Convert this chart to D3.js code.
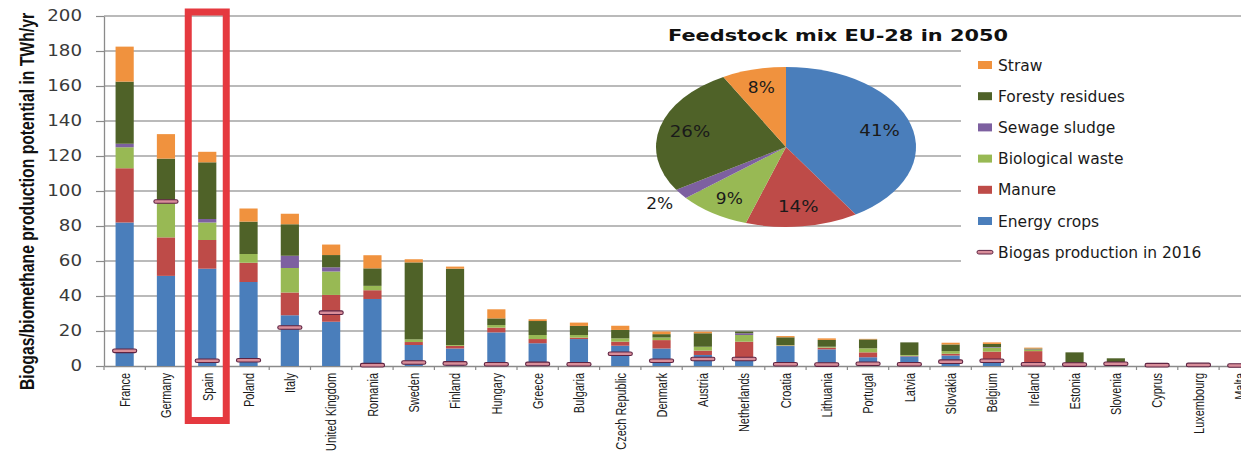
<!DOCTYPE html>
<html><head><meta charset="utf-8">
<script src="https://cdn.jsdelivr.net/npm/d3@7"></script>
<style>
html,body{margin:0;padding:0;background:#fff;}
svg{display:block;}
</style></head>
<body>
<svg id="chart" width="1241" height="454"></svg>
<script>
// ---------- DATA ----------
const countries = ["France","Germany","Spain","Poland","Italy","United Kingdom","Romania","Sweden","Finland","Hungary","Greece","Bulgaria","Czech Republic","Denmark","Austria","Netherlands","Croatia","Lithuania","Portugal","Latvia","Slovakia","Belgium","Ireland","Estonia","Slovenia","Cyprus","Luxembourg","Malta"];
const energyCrops     = [82, 51.5, 55.6, 48, 29, 25.3, 38.3, 12, 10, 19.2, 13, 15.4, 11.6, 10, 6.3, 3, 11.4, 9.5, 5, 5.5, 6, 3.8, 1.5, 1.5, 1, 0.3, 0.2, 0.2];
const manure          = [31, 22, 16.4, 11, 13, 15.3, 5, 1.7, 1.5, 2.7, 2.4, 0.8, 2.3, 4.8, 2.5, 10.9, 0.3, 1, 2.8, 0.3, 1, 4.4, 7, 0, 0.8, 0.4, 0.3, 0.2];
const biologicalWaste = [12, 20, 10, 5, 14, 13.4, 2.5, 1.5, 0.5, 1.5, 2.3, 1.5, 1.9, 1.5, 2.2, 3.8, 0.3, 0.5, 2.3, 0.5, 1.5, 2.3, 0.8, 0, 0.3, 0, 0, 0];
const sewageSludge    = [2, 0, 2, 0, 7, 2.4, 0, 0, 0, 0, 0, 0, 0, 0, 0, 1, 0, 0, 0, 0, 0, 0.3, 0.2, 0, 0, 0, 0, 0];
const forestyResidues = [35.5, 25, 32.4, 18.5, 18, 7, 10, 44, 43.6, 3.8, 8, 5.2, 4.8, 1.9, 7.7, 1, 4.4, 3.9, 5.1, 7.2, 3.8, 1.8, 0.5, 6.3, 2.3, 0.1, 0, 0];
const straw           = [20, 14, 6, 7.5, 6, 6, 7.5, 1.8, 1.2, 5.2, 1, 1.9, 2.4, 1.5, 0.9, 0, 0.7, 0.9, 0.3, 0, 1, 0.9, 0.5, 0, 0, 0, 0, 0];
const biogas2016      = [8.7, 94, 3, 3.3, 22, 30.5, 0.5, 2, 1.5, 1, 1.2, 1, 7, 3, 4, 4, 1, 0.8, 1.3, 1, 2.5, 3, 1, 0.8, 1.3, 0.5, 0.6, 0.3];

const seriesNames  = ["Energy crops","Manure","Biological waste","Sewage sludge","Foresty residues","Straw"];
const seriesValues = [energyCrops, manure, biologicalWaste, sewageSludge, forestyResidues, straw];
const seriesColors = ["#4a7ebb","#be4b48","#98b954","#7d60a0","#4f6228","#f0923e"];

const pieLabels = ["41%","14%","9%","2%","26%","8%"];
const pieShares = [41, 14, 9, 2, 26, 8];

const yTicks = [0,20,40,60,80,100,120,140,160,180,200];
const legendLabels = ["Straw","Foresty residues","Sewage sludge","Biological waste","Manure","Energy crops","Biogas production in 2016"];

// ---------- LAYOUT ----------
const svg = d3.select("#chart");
const plotLeft = 104, plotTop = 16, plotBottom = 366;
const step = 41.3;
const x = d3.scaleBand().domain(countries)
  .range([plotLeft, plotLeft + step * countries.length])
  .paddingInner(0.56).paddingOuter(0.28);
const y = d3.scaleLinear().domain([0,200]).range([plotBottom, plotTop]);

// gridlines
const grid = svg.append("g");
grid.selectAll("line").data(yTicks.filter(d => d > 0)).join("line")
  .attr("x1", plotLeft).attr("x2", 1241)
  .attr("y1", d => y(d)).attr("y2", d => y(d))
  .attr("stroke", "#a3a3a3").attr("stroke-width", 1.3);

// white legend background (covers gridlines)
svg.append("rect").attr("x", 961).attr("y", 42).attr("width", 290).attr("height", 228).attr("fill", "#fff");

// y axis
const yAxis = d3.axisLeft(y).tickValues(yTicks).tickSize(8).tickPadding(14).tickSizeOuter(0);
const gy = svg.append("g").attr("transform", `translate(${plotLeft},0)`).call(yAxis);
gy.select(".domain").attr("stroke", "#8a8a8a").attr("stroke-width", 1.3);
gy.selectAll(".tick line").attr("stroke", "#8a8a8a").attr("stroke-width", 1.2);
gy.selectAll(".tick text")
  .attr("font-family", "DejaVu Sans, sans-serif").attr("font-size", 15)
  .attr("fill", "#3a3a3a")
  .attr("textLength", d => String(d).length * 11.6)
  .attr("lengthAdjust", "spacingAndGlyphs");

// x axis
const xAxis = d3.axisBottom(x).tickSize(0).tickPadding(0).tickSizeOuter(0);
const gx = svg.append("g").attr("transform", `translate(0,${plotBottom})`).call(xAxis);
gx.select(".domain").attr("stroke", "#8a8a8a").attr("stroke-width", 1.3);
gx.selectAll(".tick text")
  .attr("font-family", "'Liberation Sans', Arial, sans-serif")
  .attr("font-size", 15).attr("fill", "#1a1a1a")
  .attr("text-anchor", "end")
  .attr("transform", "rotate(-90)")
  .attr("x", -7).attr("y", 0).attr("dy", "0.35em")
  .each(function() {
    const w = this.getComputedTextLength();
    d3.select(this).attr("textLength", w * 0.73).attr("lengthAdjust", "spacingAndGlyphs");
  });
// small ticks at band boundaries
const boundaries = d3.range(countries.length + 1).map(i => plotLeft + i * step);
svg.append("g").selectAll("line").data(boundaries).join("line")
  .attr("x1", d => d).attr("x2", d => d)
  .attr("y1", plotBottom).attr("y2", plotBottom + 4)
  .attr("stroke", "#8a8a8a").attr("stroke-width", 1.2);

// stacked bars
const table = countries.map((c, i) => {
  const o = { country: c };
  seriesNames.forEach((s, k) => o[s] = seriesValues[k][i]);
  return o;
});
const stacked = d3.stack().keys(seriesNames)(table);
const barsG = svg.append("g");
stacked.forEach((layer, k) => {
  barsG.append("g").attr("fill", seriesColors[k])
    .selectAll("rect").data(layer).join("rect")
    .attr("x", d => x(d.data.country))
    .attr("width", x.bandwidth())
    .attr("y", d => y(d[1]))
    .attr("height", d => Math.max(0, y(d[0]) - y(d[1])));
});

// biogas 2016 markers
svg.append("g").selectAll("rect").data(countries).join("rect")
  .attr("x", d => x(d) - 3)
  .attr("width", x.bandwidth() + 6)
  .attr("y", (d, i) => y(biogas2016[i]) - 1.8)
  .attr("height", 3.6).attr("rx", 1.8)
  .attr("fill", "#d98e9a").attr("stroke", "#5e2342").attr("stroke-width", 1.1);

// y-axis title
svg.append("text")
  .attr("transform", "translate(34,201.5) rotate(-90)")
  .attr("text-anchor", "middle")
  .attr("font-family", "'Liberation Sans', Arial, sans-serif")
  .attr("font-weight", "bold").attr("font-size", 19.5).attr("fill", "#111")
  .attr("textLength", 377).attr("lengthAdjust", "spacingAndGlyphs")
  .text("Biogas/biomethane production potential in TWh/yr");

// highlight box around Spain
const spainC = x("Spain") + x.bandwidth() / 2;
svg.append("rect")
  .attr("x", spainC - 19).attr("y", 12).attr("width", 38).attr("height", 408.5)
  .attr("fill", "none").attr("stroke", "#e5393f").attr("stroke-width", 7);

// ---------- PIE ----------
const cx = 786, cy = 147, ry = 80, sx = 1.625;
const pie = d3.pie().sort(null).value(d => d)(pieShares);
const arc = d3.arc().innerRadius(0).outerRadius(ry);
const pieG = svg.append("g").attr("transform", `translate(${cx},${cy}) scale(${sx},1)`);
pieG.selectAll("path").data(pie).join("path")
  .attr("d", arc)
  .attr("fill", (d, i) => seriesColors[i]);

const labelR = [60, 60, 62, 96, 61, 61];
svg.append("g").selectAll("text").data(pie).join("text")
  .attr("x", (d, i) => cx + Math.sin((d.startAngle + d.endAngle) / 2) * labelR[i] * sx)
  .attr("y", (d, i) => cy - Math.cos((d.startAngle + d.endAngle) / 2) * labelR[i])
  .attr("dy", "0.35em")
  .attr("text-anchor", "middle")
  .attr("font-family", "DejaVu Sans, sans-serif").attr("font-size", 15)
  .attr("fill", "#1a1a1a")
  .attr("textLength", (d, i) => pieLabels[i].length * 13.5)
  .attr("lengthAdjust", "spacingAndGlyphs")
  .text((d, i) => pieLabels[i]);

// pie title
svg.append("text")
  .attr("x", 668).attr("y", 41)
  .attr("font-family", "DejaVu Sans, sans-serif").attr("font-weight", "bold")
  .attr("font-size", 16).attr("fill", "#111")
  .attr("textLength", 340).attr("lengthAdjust", "spacingAndGlyphs")
  .text("Feedstock mix EU-28 in 2050");

// ---------- LEGEND ----------
const legendColors = [seriesColors[5], seriesColors[4], seriesColors[3], seriesColors[2], seriesColors[1], seriesColors[0]];
const lg = svg.append("g");
legendLabels.forEach((lab, i) => {
  const cyRow = 65 + i * 31.2;
  if (i < 6) {
    lg.append("rect").attr("x", 978).attr("y", cyRow - 4).attr("width", 14).attr("height", 8)
      .attr("fill", legendColors[i]);
  } else {
    lg.append("rect").attr("x", 977).attr("y", cyRow - 1.8).attr("width", 16).attr("height", 3.6).attr("rx", 1.8)
      .attr("fill", "#d98e9a").attr("stroke", "#5e2342").attr("stroke-width", 1);
  }
  lg.append("text").attr("x", 998).attr("y", cyRow).attr("dy", "0.36em")
    .attr("font-family", "DejaVu Sans, sans-serif").attr("font-size", 15.5)
    .attr("fill", "#1a1a1a").text(lab);
});
</script>
</body></html>
